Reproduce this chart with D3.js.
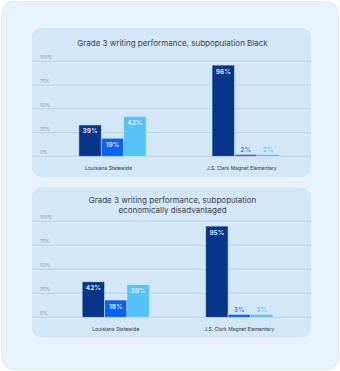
<!DOCTYPE html>
<html>
<head>
<meta charset="utf-8">
<script src="https://cdn.jsdelivr.net/npm/d3@7"></script>
<style>
  html, body { margin: 0; padding: 0; background: #ffffff; }
  svg { display: block; font-family: "Inter", "Open Sans", sans-serif; }
</style>
</head>
<body>
<svg id="chart" width="340" height="371"></svg>
<script>
// ---- data ----
const categories = ["Louisiana Statewide", "J.S. Clark Magnet Elementary"];
const seriesKeys = ["s1", "s2", "s3"];
const yTickValues = [0, 25, 50, 75, 100];

// Chart 1: subpopulation Black (bar heights as drawn, labels as printed)
const black_s1 = [33, 96];
const black_s2 = [19, 2];
const black_s3 = [42, 2];
const blackLabels_s1 = ["39%", "96%"];
const blackLabels_s2 = ["19%", "2%"];
const blackLabels_s3 = ["42%", "2%"];

// Chart 2: economically disadvantaged
const econ_s1 = [37, 95];
const econ_s2 = [18, 3];
const econ_s3 = [34, 3];
const econLabels_s1 = ["42%", "95%"];
const econLabels_s2 = ["18%", "3%"];
const econLabels_s3 = ["39%", "3%"];

const title1 = ["Grade 3 writing performance, subpopulation Black"];
const title2 = ["Grade 3 writing performance, subpopulation", "economically disadvantaged"];

// ---- style ----
const colors = { s1: "#07358a", s2: "#0a62f4", s3: "#56c3fb" };
const outsideColors = { s1: "#07358a", s2: "#3a7af2", s3: "#6fcbfb" };

const svg = d3.select("#chart");

// outer card
svg.append("rect").attr("x", 1.5).attr("y", 1.5).attr("width", 337).attr("height", 368)
  .attr("rx", 12).attr("fill", "#e8f2fd").attr("stroke", "#dfecfa");

function buildRows(vals, labs) {
  return categories.map((c, i) => ({
    cat: c,
    bars: seriesKeys.map((k, j) => ({ key: k, value: vals[j][i], label: labs[j][i] }))
  }));
}

function drawPanel(cfg) {
  const g = svg.append("g");
  g.append("rect").attr("x", cfg.px).attr("y", cfg.py).attr("width", cfg.pw).attr("height", cfg.ph)
    .attr("rx", 9).attr("fill", "#d3e7f8");

  // title
  g.append("g").selectAll("text").data(cfg.title).join("text")
    .attr("x", cfg.px + cfg.pw / 2 + 1)
    .attr("y", (d, i) => cfg.titleY + i * 9.5)
    .attr("text-anchor", "middle")
    .attr("font-size", 8)
    .attr("fill", "#3a3f48")
    .text(d => d);

  const y = d3.scaleLinear().domain([0, 100]).range([cfg.y0, cfg.y100]);
  const x0 = d3.scaleBand().domain(categories).range(cfg.xRange).paddingInner(0).paddingOuter(0);
  const x1 = d3.scaleBand().domain(seriesKeys).range([0, x0.bandwidth()])
    .paddingInner(0).paddingOuter(cfg.subPad);

  // grid
  const grid = g.append("g");
  grid.selectAll("line").data(yTickValues).join("line")
    .attr("x1", cfg.px).attr("x2", cfg.px + cfg.pw)
    .attr("y1", d => y(d)).attr("y2", d => y(d))
    .attr("stroke", "#bcd5ec").attr("stroke-width", 1);

  // y axis labels via d3 axis
  const yAxis = d3.axisLeft(y).tickValues(yTickValues).tickFormat(d => d + "%").tickSize(0);
  const ya = g.append("g").attr("transform", `translate(${cfg.px + 8},-4)`).call(yAxis);
  ya.select(".domain").remove();
  ya.selectAll("text").attr("text-anchor", "start").attr("x", 0)
    .attr("font-size", 4.6).attr("fill", "#8796aa").attr("font-family", "Inter, sans-serif");

  // x axis labels
  const xAxis = d3.axisBottom(x0).tickSize(0);
  const xa = g.append("g").attr("transform", `translate(${cfg.labelShift},${cfg.y0 + 7})`).call(xAxis);
  xa.select(".domain").remove();
  xa.selectAll("text").attr("font-size", 5).attr("fill", "#30343c").attr("font-family", "Inter, sans-serif");

  const rows = buildRows(cfg.values, cfg.labels);
  const groups = g.append("g").selectAll("g").data(rows).join("g")
    .attr("transform", d => `translate(${x0(d.cat)},0)`);

  groups.selectAll("rect").data(d => d.bars).join("rect")
    .attr("x", d => x1(d.key))
    .attr("y", d => y(d.value))
    .attr("width", x1.bandwidth())
    .attr("height", d => cfg.y0 - y(d.value))
    .attr("fill", d => colors[d.key])
    .attr("stroke", "#e4effb").attr("stroke-opacity", 0.6).attr("stroke-width", 0.8);

  groups.selectAll("text.v").data(d => d.bars).join("text")
    .attr("class", "v")
    .attr("x", d => x1(d.key) + x1.bandwidth() / 2)
    .attr("y", d => (cfg.y0 - y(d.value)) > 12 ? y(d.value) + 8.5 : y(d.value) - 2.5)
    .attr("text-anchor", "middle")
    .attr("font-size", 6.6)
    .attr("font-weight", 600)
    .attr("fill", d => (cfg.y0 - y(d.value)) > 12 ? "#e3ecfa" : outsideColors[d.key])
    .text(d => d.label);
}

drawPanel({
  px: 32, py: 28, pw: 279, ph: 149,
  title: title1, titleY: 46,
  y0: 156.3, y100: 61.3,
  xRange: [45.9, 312.3], subPad: 1.47, labelShift: -4,
  values: [black_s1, black_s2, black_s3],
  labels: [blackLabels_s1, blackLabels_s2, blackLabels_s3]
});

drawPanel({
  px: 32, py: 187.5, pw: 279, ph: 150,
  title: title2, titleY: 203,
  y0: 317.3, y100: 221.3,
  xRange: [54, 301], subPad: 1.26, labelShift: 0,
  values: [econ_s1, econ_s2, econ_s3],
  labels: [econLabels_s1, econLabels_s2, econLabels_s3]
});
</script>
</body>
</html>
